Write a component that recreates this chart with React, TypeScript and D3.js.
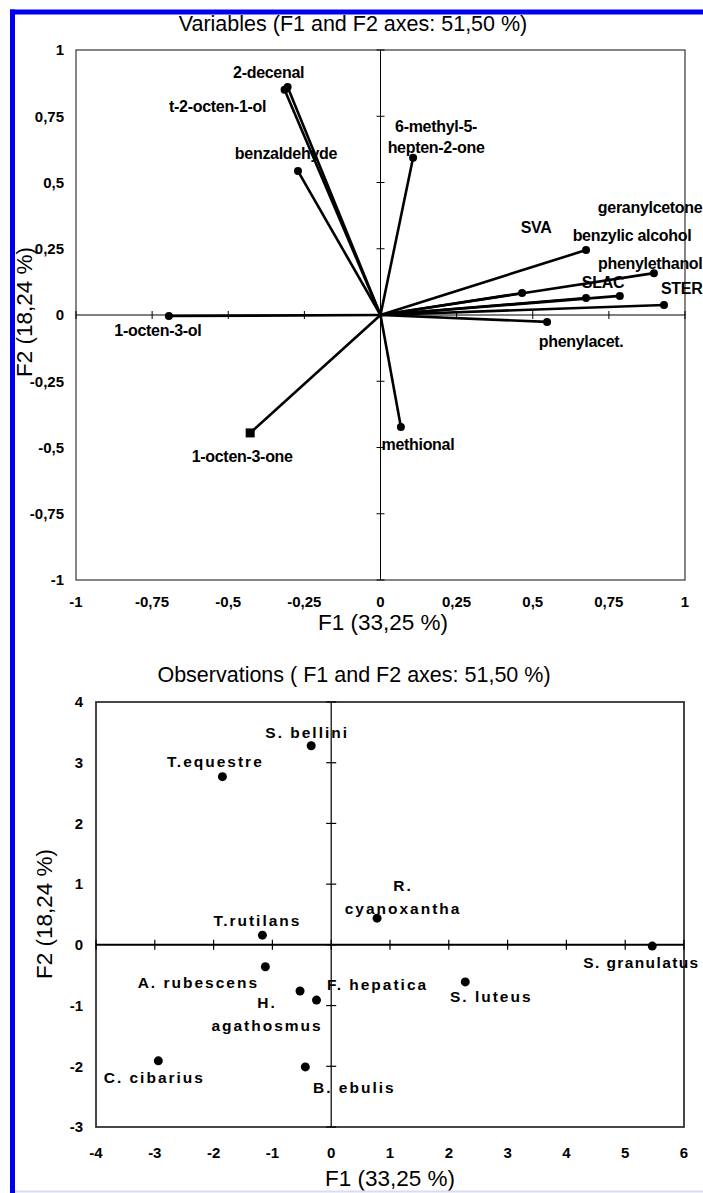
import React from "react";
import * as d3 from "d3";

// variables plot (correlation circle)
const varNames = [
  "2-decenal",
  "t-2-octen-1-ol",
  "benzaldehyde",
  "1-octen-3-ol",
  "1-octen-3-one",
  "methional",
  "6-methyl-5-\nhepten-2-one",
  "SVA",
  "benzylic alcohol",
  "geranylcetone",
  "phenylethanol",
  "SLAC",
  "STER",
  "phenylacet.",
];
const varF1 = [-0.305, -0.315, -0.271, -0.695, -0.428, 0.067, 0.107, 0.465, 0.675, 0.786, 0.898, 0.675, 0.931, 0.547];
const varF2 = [0.86, 0.85, 0.543, -0.004, -0.445, -0.423, 0.593, 0.083, 0.245, 0.072, 0.158, 0.064, 0.038, -0.026];
const varTicks = [-1, -0.75, -0.5, -0.25, 0, 0.25, 0.5, 0.75, 1];
const varTickLabels = ["-1", "-0,75", "-0,5", "-0,25", "0", "0,25", "0,5", "0,75", "1"];

// observations plot
const obsNames = [
  "S. bellini",
  "T.equestre",
  "R.\ncyanoxantha",
  "T.rutilans",
  "S. granulatus",
  "A. rubescens",
  "H.\nagathosmus",
  "F. hepatica",
  "S. luteus",
  "C. cibarius",
  "B. ebulis",
];
const obsF1 = [-0.34, -1.85, 0.78, -1.17, 5.46, -1.12, -0.53, -0.25, 2.28, -2.94, -0.44];
const obsF2 = [3.28, 2.77, 0.44, 0.16, -0.02, -0.36, -0.76, -0.91, -0.61, -1.91, -2.01];
const obsXTicks = [-4, -3, -2, -1, 0, 1, 2, 3, 4, 5, 6];
const obsYTicks = [-3, -2, -1, 0, 1, 2, 3, 4];

// label placement (px offset from the point, first line)
const varLabelPos: [number, number, string][] = [
  [-19, -15, "middle"],
  [-67, 17, "middle"],
  [-12, -18, "middle"],
  [-11, 14, "middle"],
  [-8, 23, "middle"],
  [17, 17, "middle"],
  [23, -31, "middle"],
  [14, -66, "middle"],
  [46, -15, "middle"],
  [-22, -89, "start"],
  [-56, -10, "start"],
  [17, -16, "middle"],
  [-3, -17, "start"],
  [34, 20, "middle"],
];
const obsLabelPos: [number, number, string][] = [
  [-4, -13, "middle"],
  [-7, -15, "middle"],
  [26, -33, "middle"],
  [-5, -15, "middle"],
  [-69, 17, "start"],
  [-67, 16, "middle"],
  [-33, 12, "middle"],
  [61, -16, "middle"],
  [26, 15, "middle"],
  [-4, 17, "middle"],
  [49, 21, "middle"],
];

const FONT = "'Liberation Sans', Arial, sans-serif";

const Label = ({ x, y, text, anchor, size, spacing, lh }) => {
  const lines = text.split("\n");
  return (
    <text
      x={x}
      y={y}
      textAnchor={anchor}
      fontFamily={FONT}
      fontWeight="bold"
      fontSize={size}
      letterSpacing={spacing}
      fill="#000"
    >
      {lines.map((l, i) => (
        <tspan key={i} x={x} dy={i === 0 ? "0.35em" : lh}>
          {l}
        </tspan>
      ))}
    </text>
  );
};

const VariablesPlot = () => {
  const x = d3.scaleLinear().domain([-1, 1]).range([76, 685]);
  const y = d3.scaleLinear().domain([-1, 1]).range([580, 50]);
  const x0 = x(0);
  const y0 = y(0);
  return (
    <g>
      <text x={353} y={31} textAnchor="middle" fontFamily={FONT} fontSize={21.5}>
        Variables (F1 and F2 axes: 51,50 %)
      </text>
      <rect x={76} y={50} width={609} height={530} fill="none" stroke="#444" strokeWidth={1.3} />
      <line x1={76} x2={685} y1={y0} y2={y0} stroke="#000" strokeWidth={1} />
      <line x1={x0} x2={x0} y1={50} y2={580} stroke="#000" strokeWidth={1} />
      {varTicks.map((t, i) => (
        <g key={"t" + i}>
          <line x1={x(t)} x2={x(t)} y1={y0 - 4} y2={y0 + 4} stroke="#000" />
          <line x1={x0 - 4} x2={x0 + 4} y1={y(t)} y2={y(t)} stroke="#000" />
          <text x={x(t)} y={602} dy="0.35em" textAnchor="middle" fontFamily={FONT} fontWeight="bold" fontSize={15}>
            {varTickLabels[i]}
          </text>
          <text x={64} y={y(t)} dy="0.35em" textAnchor="end" fontFamily={FONT} fontWeight="bold" fontSize={15}>
            {varTickLabels[i]}
          </text>
        </g>
      ))}
      {varNames.map((n, i) => (
        <line
          key={"l" + i}
          x1={x0}
          y1={y0}
          x2={x(varF1[i])}
          y2={y(varF2[i])}
          stroke="#000"
          strokeWidth={2.6}
        />
      ))}
      {varNames.map((n, i) =>
        n === "1-octen-3-one" ? (
          <rect key={"m" + i} x={x(varF1[i]) - 4.5} y={y(varF2[i]) - 4.5} width={9} height={9} fill="#000" />
        ) : (
          <circle key={"m" + i} cx={x(varF1[i])} cy={y(varF2[i])} r={4} fill="#000" />
        )
      )}
      {varNames.map((n, i) => (
        <Label
          key={"n" + i}
          x={x(varF1[i]) + varLabelPos[i][0]}
          y={y(varF2[i]) + varLabelPos[i][1]}
          text={n}
          anchor={varLabelPos[i][2]}
          size={16}
          spacing={-0.3}
          lh={21}
        />
      ))}
      <text x={383} y={622} dy="0.35em" textAnchor="middle" fontFamily={FONT} fontSize={22.5}>
        F1 (33,25 %)
      </text>
      <text
        transform="translate(24,312) rotate(-90)"
        dy="0.35em"
        textAnchor="middle"
        fontFamily={FONT}
        fontSize={22.5}
      >
        F2 (18,24 %)
      </text>
    </g>
  );
};

const ObservationsPlot = () => {
  const x = d3.scaleLinear().domain([-4, 6]).range([96, 684]);
  const y = d3.scaleLinear().domain([-3, 4]).range([1127, 702]);
  const x0 = x(0);
  const y0 = y(0);
  return (
    <g>
      <text x={354} y={682} textAnchor="middle" fontFamily={FONT} fontSize={21.5}>
        Observations ( F1 and F2 axes: 51,50 %)
      </text>
      <rect x={96} y={702} width={588} height={425} fill="none" stroke="#333" strokeWidth={1.8} />
      <line x1={96} x2={684} y1={y0} y2={y0} stroke="#000" strokeWidth={2} />
      <line x1={x0} x2={x0} y1={702} y2={1127} stroke="#000" strokeWidth={1.2} />
      {obsXTicks.map((t) => (
        <g key={"x" + t}>
          <line x1={x(t)} x2={x(t)} y1={y0 - 5} y2={y0 + 5} stroke="#000" strokeWidth={1.2} />
          <text x={x(t)} y={1153} dy="0.35em" textAnchor="middle" fontFamily={FONT} fontWeight="bold" fontSize={15}>
            {t}
          </text>
        </g>
      ))}
      {obsYTicks.map((t) => (
        <g key={"y" + t}>
          <line x1={x0 - 5} x2={x0 + 5} y1={y(t)} y2={y(t)} stroke="#000" strokeWidth={1.2} />
          <text x={83} y={y(t)} dy="0.35em" textAnchor="end" fontFamily={FONT} fontWeight="bold" fontSize={15}>
            {t}
          </text>
        </g>
      ))}
      {obsNames.map((n, i) => (
        <circle key={"p" + i} cx={x(obsF1[i])} cy={y(obsF2[i])} r={4.5} fill="#000" />
      ))}
      {obsNames.map((n, i) => (
        <Label
          key={"o" + i}
          x={x(obsF1[i]) + obsLabelPos[i][0]}
          y={y(obsF2[i]) + obsLabelPos[i][1]}
          text={n}
          anchor={obsLabelPos[i][2]}
          size={15.5}
          spacing={n.startsWith("S. gran") ? 1.4 : 2}
          lh={23}
        />
      ))}
      <text x={390} y={1178} dy="0.35em" textAnchor="middle" fontFamily={FONT} fontSize={22.5}>
        F1 (33,25 %)
      </text>
      <text
        transform="translate(44,914) rotate(-90)"
        dy="0.35em"
        textAnchor="middle"
        fontFamily={FONT}
        fontSize={22.5}
      >
        F2 (18,24 %)
      </text>
    </g>
  );
};

export default function App() {
  return (
    <svg
      width={703}
      height={1193}
      style={{ position: "absolute", left: 0, top: 0, background: "#fff" }}
    >
      <rect x={0} y={0} width={703} height={1193} fill="#fff" />
      <VariablesPlot />
      <ObservationsPlot />
      {/* blue frame */}
      <line x1={12.5} x2={12.5} y1={9.5} y2={1193} stroke="#0000f0" strokeWidth={5} />
      <line x1={10} x2={703} y1={12} y2={12} stroke="#0000f0" strokeWidth={5} />
      <line x1={15} x2={703} y1={1191.5} y2={1191.5} stroke="#d8dcf4" strokeWidth={2} />
    </svg>
  );
}
